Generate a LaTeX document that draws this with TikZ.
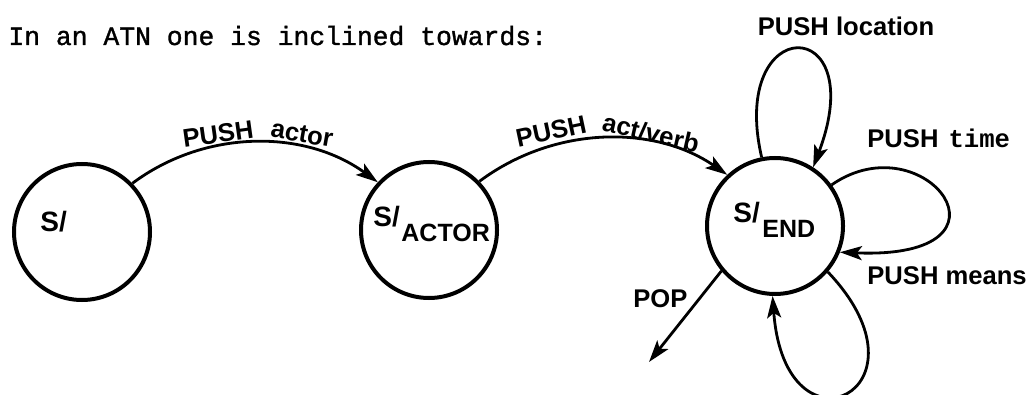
\documentclass[tikz,border=0pt]{standalone}
\usepackage{fontspec}
\usetikzlibrary{arrows.meta}
\newfontfamily\labfont{Liberation Sans}
\newfontfamily\ttfont[FakeBold=1.2]{Liberation Mono}
\newfontfamily\tttime{Liberation Mono}
\begin{document}
\begin{tikzpicture}[x=0.5pt,y=-0.5pt,
  state/.style={circle,draw,line width=2pt,minimum size=68pt,inner sep=0pt},
  edge/.style={line width=1.4pt,-{Stealth[length=11pt,width=7pt,inset=2.5pt]}},
  elab/.style={inner sep=0pt,font=\labfont\bfseries\fontsize{12.8}{14}\selectfont},
  slab/.style={inner sep=0pt,anchor=base west,font=\labfont\bfseries\fontsize{14}{16}\selectfont},
  sub/.style={inner sep=0pt,anchor=base west,font=\labfont\bfseries\fontsize{12.5}{14}\selectfont},
  ttl/.style={inner sep=0pt,anchor=base west,font=\ttfont\fontsize{13.2}{15}\selectfont}]
\useasboundingbox[fill=white] (0,0) rectangle (1027,395);
% title
\node[ttl] (title) at (8,45) {In an ATN one is inclined towards:};
% states
\node[state] (s1) at (82,232) {};
\node[state] (s2) at (429,230) {};
\node[state] (s3) at (775,226) {};
\node[slab] (t1) at (40,232) {S/};
\node[slab] (t2a) at (373,227) {S/};
\node[sub] (t2b) at (401,242) {ACTOR};
\node[slab] (t3a) at (733,223) {S/};
\node[sub] (t3b) at (762,237) {END};
% transitions
\draw[edge] (s1.44) .. controls (205,129) and (305,129) .. (s2.137);
\draw[edge] (s2.44) .. controls (555,125) and (655,125) .. (s3.133);
\draw[edge] (s3.101) .. controls (728,12) and (872,12) .. (s3.57);
\draw[edge] (s3.36) .. controls (925,120) and (1030,260) .. (s3.-22);
\draw[edge] (s3.-41) .. controls (940,390) and (785,465) .. (s3.-92);
\coordinate (popend) at (649,362);
\draw[edge] (s3.220) -- (popend);
% labels
\node[elab,rotate=8] (l1a) at (218,134) {PUSH};
\node[elab,rotate=-10] (l1b) at (302,134) {actor};
\node[elab,rotate=12] (l2a) at (551,131) {PUSH};
\node[elab,rotate=-13] (l2b) at (651,133) {act/verb};
\node[elab] (l3) at (846,26) {PUSH location};
\node[elab,anchor=base west] (l4) at (867,148) {PUSH\hspace{5pt}{\tttime\bfseries\fontsize{12.8}{14}\selectfont time}};
\node[elab,anchor=base west] (l5) at (867,285) {PUSH means};
\node[elab,anchor=base west] (l6) at (633,307) {POP};
\end{tikzpicture}
\end{document}
